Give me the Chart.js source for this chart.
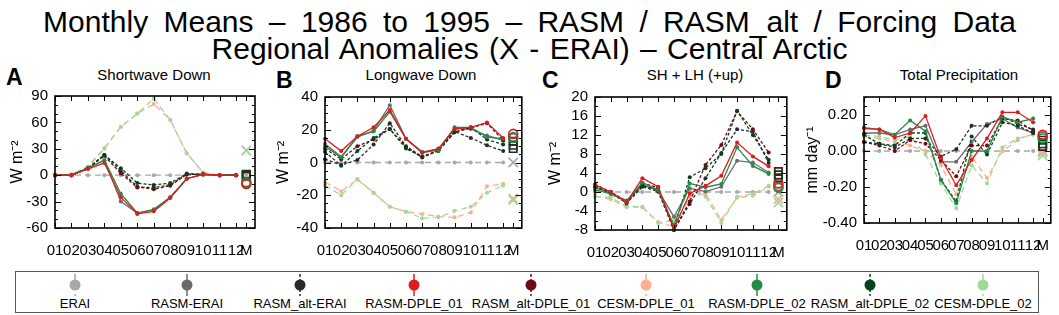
<!DOCTYPE html>
<html>
<head>
<meta charset="utf-8">
<script src="https://cdn.jsdelivr.net/npm/chart.js@4.4.0/dist/chart.umd.min.js"></script>
<style>
  body { margin: 0; width: 1059px; height: 315px; background: #fff; position: relative; overflow: hidden;
         font-family: "Liberation Sans", Arial, sans-serif; color: #000; }
  .abs { position: absolute; white-space: nowrap; }
  .title { left: 0; width: 1059px; text-align: center; font-size: 30px; line-height: 30px; }
  .letter { font-weight: bold; font-size: 23px; line-height: 23px; }
  .ptitle { font-size: 15px; line-height: 16px; transform: translateX(-50%); }
  canvas { position: absolute; }
  #legend { left: 15px; top: 271px; width: 1024px; height: 42px; border: 1px solid #555; box-sizing: border-box; }
  .item { position: absolute; top: 0; width: 130px; margin-left: -65px; text-align: center; }
  .item svg { display: block; margin: 2px auto 0; }
  .item span { display: block; font-size: 13px; line-height: 15px; white-space: nowrap; }
</style>
</head>
<body>
<div class="abs title" style="top:7px; word-spacing:7px">Monthly Means – 1986 to 1995 – RASM / RASM_alt / Forcing Data</div>
<div class="abs title" style="top:34px; word-spacing:2px">Regional Anomalies (X - ERAI) – Central Arctic</div>
<div id="legend" class="abs"></div>

<script>
// months + annual mean
const categories = ['01', '02', '03', '04', '05', '06', '07', '08', '09', '10', '11', '12', 'M'];
const seriesNames = ['ERAI', 'RASM-ERAI', 'RASM_alt-ERAI', 'RASM-DPLE_01', 'RASM_alt-DPLE_01',
                     'CESM-DPLE_01', 'RASM-DPLE_02', 'RASM_alt-DPLE_02', 'CESM-DPLE_02'];

// A - Shortwave Down (W m-2)
const swERAI        = [0, 0, 0, 0, 0, 0, 0, 0, 0, 0, 0, 0, 0];
const swRasmErai    = [0, 0, 8, 17, -30, -43, -39, -25, -4, 1, 0, 0, -9];
const swAltErai     = [0, 0, 8, 23, 5, -13, -16, -12, 1, 1, 0, 0, 0];
const swRasmDple1   = [0, 0, 7, 14, -25, -44, -41, -26, -4, 1, 0, 0, -10];
const swAltDple1    = [0, 0, 8, 22, 2, -14, -14, -11, 1, 1, 0, 0, -1];
const swCesmDple1   = [0, 1, 9, 30, 55, 70, 81, 63, 25, 3, 0, 0, 28];
const swRasmDple2   = [0, 0, 8, 17, -21, -43, -39, -25, -4, 1, 0, 0, -8];
const swAltDple2    = [0, 0, 8, 23, 8, -9, -11, -9, 2, 1, 0, 0, 1];
const swCesmDple2   = [0, 1, 10, 31, 55, 70, 87, 63, 25, 3, 0, 0, 28];

// B - Longwave Down (W m-2)
const lwERAI        = [0, 0, 0, 0, 0, 0, 0, 0, 0, 0, 0, 0, 0];
const lwRasmErai    = [11.5, 3.5, 15.5, 19.5, 35, 14.5, 6.5, 8, 20.5, 20.5, 16.5, 13.5, 15.5];
const lwAltErai     = [2, -1.5, 1.5, 11, 24, 10, 3.5, 7.5, 19, 15, 10.5, 7, 8.5];
const lwRasmDple1   = [14.5, 7, 16, 21.5, 32, 14.5, 6, 8.5, 20.5, 21.5, 24.5, 15, 17.5];
const lwAltDple1    = [8.5, 2, 10, 14, 20.5, 9.5, 3, 7.5, 18.5, 21, 24, 13.5, 13];
const lwCesmDple1   = [-12, -17.5, -10.5, -18.5, -27, -30, -31.5, -33, -33.5, -30.5, -14.5, -13, -22];
const lwRasmDple2   = [10, 3, 16, 19, 31, 14.5, 6, 7.5, 21.5, 21.5, 15.5, 14.5, 15];
const lwAltDple2    = [6.5, -2, 7, 15, 20.5, 8.5, 3.5, 7, 18.5, 21.5, 14, 11, 10.5];
const lwCesmDple2   = [-14, -20, -10, -18.5, -27, -30, -34, -33.5, -29.5, -27, -18.5, -14, -23];

// C - SH + LH (W m-2)
const hfERAI        = [0, 0, 0, 0, 0, 0, 0, 0, 0, 0, 0, 0, 0];
const hfRasmErai    = [0.9, -0.3, -1.8, 1.5, 0.3, -5.2, 0.8, 0.1, 1.1, 6.6, 6.2, 4.1, 1.2];
const hfAltErai     = [1.1, 0, -2.4, 1.1, 0.1, -8, -2.5, 2.9, 8.2, 13.2, 12.7, 6.1, 3.0];
const hfRasmDple1   = [1.5, 0, -2.2, 2.9, 1.1, -7.7, -0.3, 1.3, 3.4, 10.4, 7.5, 5.4, 1.8];
const hfAltDple1    = [1.6, 0, -2, 1.8, 1, -8, -2, 5.7, 9.9, 17, 13.2, 8.3, 4.3];
const hfCesmDple1   = [-0.8, -1.5, -3.2, -3.2, -6.3, -7.3, -1, -0.3, -5.9, -1.2, -0.8, 1.1, -1.5];
const hfRasmDple2   = [0.5, -0.4, -2, 2, 0.4, -7, 1.8, 1, 1.7, 9.4, 5.5, 3.8, 0.9];
const hfAltDple2    = [1.3, -0.3, -2.2, 1.3, 0.6, -7.7, 3.1, 5, 8, 17.1, 12, 6.8, 3.6];
const hfCesmDple2   = [-1, -1.1, -3, -3.1, -6.5, -5.9, 0.6, -1, -6.5, -1, -0.4, 1.3, -2.2];

// D - Total Precipitation (mm day-1)
const prERAI        = [0, 0, 0, 0, 0, 0, 0, 0, 0, 0, 0, 0, 0];
const prRasmErai    = [0.10, 0.10, 0.09, 0.12, 0.14, -0.06, -0.06, 0.05, 0.15, 0.18, 0.13, 0.10, 0.08];
const prAltErai     = [0.05, 0.04, 0.02, 0.07, 0.07, -0.03, 0.01, 0.14, 0.14, 0.19, 0.15, 0.12, 0.06];
const prRasmDple1   = [0.125, 0.12, 0.075, 0.10, 0.195, -0.04, -0.19, -0.05, 0.07, 0.215, 0.215, 0.16, 0.09];
const prAltDple1    = [0.05, 0.03, 0.0, 0.06, 0.04, -0.05, -0.14, 0.03, 0.03, 0.18, 0.17, 0.11, 0.025];
const prCesmDple1   = [0.08, 0.07, 0.05, 0.03, 0.0, -0.08, -0.24, -0.03, -0.15, 0.0, 0.06, 0.10, -0.01];
const prRasmDple2   = [0.13, 0.12, 0.09, 0.17, 0.11, -0.16, -0.29, 0.0, 0.0, 0.19, 0.16, 0.18, 0.07];
const prAltDple2    = [0.09, 0.04, 0.03, 0.10, 0.10, -0.16, -0.28, 0.08, -0.02, 0.16, 0.14, 0.10, 0.04];
const prCesmDple2   = [0.09, 0.08, 0.06, 0.08, -0.02, -0.18, -0.32, -0.08, -0.18, 0.02, 0.07, 0.09, -0.025];

// y axis ranges and tick labels
const swRange = [-60, 90], swTicks = [-60, -30, 0, 30, 60, 90];
const lwRange = [-40, 40], lwTicks = [-40, -20, 0, 20, 40];
const hfRange = [-8, 20],  hfTicks = [-8, -4, 0, 4, 8, 12, 16, 20];
const prRange = [-0.4, 0.3], prTicks = [-0.4, -0.2, 0, 0.2];

// ---- styles ----
const colors = ['#a8a8a8', '#6b6b6b', '#2a2a2a', '#e31a1c', '#6d0a14', '#fcae91', '#238b45', '#00441b', '#a1d99b'];
const dashes = [[6, 4], [], [3, 2], [], [3, 2], [6, 4], [], [3, 2], [6, 4]];
const meanStyle = ['crossRot', 'circle', 'rect', 'circle', 'rect', 'crossRot', 'circle', 'rect', 'crossRot'];
const meanRadius = { crossRot: 6.5, circle: 4.4, rect: 5.2 };
const layer = [9, 6, 5, 1, 4, 8, 2, 3, 7];   // lower = drawn on top
const legendX = [75, 187, 300, 414, 531, 646, 757, 870, 983];
const meanPos = 12.62;
const xMax = 13.15;
const font = { family: "'Liberation Sans', Arial, sans-serif", size: 15 };

const panels = [
  { letter: 'A', name: 'Shortwave Down', unit: 'W m⁻²', values: [swERAI, swRasmErai, swAltErai, swRasmDple1, swAltDple1, swCesmDple1, swRasmDple2, swAltDple2, swCesmDple2],
    range: swRange, ticks: swTicks, minorDiv: 3, fmt: v => String(v),
    box: { l: 0, t: 80, w: 265, h: 180 }, plot: { l: 55, t: 95, r: 255, b: 228 }, titleX: 17, letterPos: [6, 66], nameX: 154 },
  { letter: 'B', name: 'Longwave Down', unit: 'W m⁻²', values: [lwERAI, lwRasmErai, lwAltErai, lwRasmDple1, lwAltDple1, lwCesmDple1, lwRasmDple2, lwAltDple2, lwCesmDple2],
    range: lwRange, ticks: lwTicks, minorDiv: 4, fmt: v => String(v),
    box: { l: 265, t: 80, w: 265, h: 180 }, plot: { l: 325, t: 97, r: 523, b: 228 }, titleX: 283, letterPos: [276, 69], nameX: 421 },
  { letter: 'C', name: 'SH + LH (+up)', unit: 'W m⁻²', values: [hfERAI, hfRasmErai, hfAltErai, hfRasmDple1, hfAltDple1, hfCesmDple1, hfRasmDple2, hfAltDple2, hfCesmDple2],
    range: hfRange, ticks: hfTicks, minorDiv: 2, fmt: v => String(v),
    box: { l: 530, t: 80, w: 265, h: 180 }, plot: { l: 595, t: 97, r: 793, b: 230 }, titleX: 555, letterPos: [542, 69], nameX: 695 },
  { letter: 'D', name: 'Total Precipitation', unit: 'mm day⁻¹', values: [prERAI, prRasmErai, prAltErai, prRasmDple1, prAltDple1, prCesmDple1, prRasmDple2, prAltDple2, prCesmDple2],
    range: prRange, ticks: prTicks, minorDiv: 4, fmt: v => v.toFixed(2),
    box: { l: 795, t: 80, w: 264, h: 180 }, plot: { l: 864, t: 97, r: 1055, b: 223 }, titleX: 812, letterPos: [825, 69], nameX: 959 }
];

// frame with inward major/minor tick marks, like the original plots
const frameTicks = {
  id: 'frameTicks',
  afterDatasetsDraw(chart, args, opts) {
    const { ctx, chartArea: a, scales: { x, y } } = chart;
    ctx.save();
    ctx.strokeStyle = '#000';
    ctx.lineWidth = 1;
    ctx.beginPath();
    const step = (opts.ticks[1] - opts.ticks[0]) / opts.minorDiv;
    const n = Math.round((y.max - y.min) / step);
    for (let k = 0; k <= n; k++) {
      const v = y.min + k * step;
      const major = opts.ticks.some(m => Math.abs(m - v) < step / 10);
      const len = major ? 6 : 3;
      const py = Math.round(y.getPixelForValue(v)) + 0.5;
      ctx.moveTo(a.left, py); ctx.lineTo(a.left + len, py);
      ctx.moveTo(a.right, py); ctx.lineTo(a.right - len, py);
    }
    x.ticks.forEach(t => {
      const px = Math.round(x.getPixelForValue(t.value)) + 0.5;
      ctx.moveTo(px, a.bottom); ctx.lineTo(px, a.bottom - 5);
      ctx.moveTo(px, a.top); ctx.lineTo(px, a.top + 5);
    });
    ctx.stroke();
    ctx.lineWidth = 1.6;
    ctx.strokeRect(a.left, a.top, a.right - a.left, a.bottom - a.top);
    ctx.restore();
  }
};

function makeDatasets(values) {
  const ds = [];
  seriesNames.forEach((name, i) => {
    const v = values[i];
    ds.push({
      label: name,
      data: categories.slice(0, 12).map((c, k) => ({ x: k + 1, y: v[k] })),
      borderColor: colors[i], backgroundColor: colors[i],
      borderWidth: 1.3, borderDash: dashes[i],
      pointRadius: 2, pointBorderWidth: 0, pointBackgroundColor: colors[i],
      clip: false, order: layer[i]
    });
    ds.push({
      label: name + ' (M)',
      data: [{ x: meanPos, y: v[12] }],
      showLine: false,
      pointStyle: meanStyle[i], pointRadius: meanRadius[meanStyle[i]],
      pointBorderColor: colors[i], pointBackgroundColor: 'rgba(0,0,0,0)', pointBorderWidth: 1.7,
      clip: false, order: layer[i]
    });
  });
  return ds;
}

const xTickPos = categories.map((c, k) => (c === 'M' ? meanPos : k + 1));
const xH = 30;

panels.forEach(p => {
  const letter = document.createElement('div');
  letter.className = 'abs letter';
  letter.style.left = p.letterPos[0] + 'px';
  letter.style.top = p.letterPos[1] + 'px';
  letter.textContent = p.letter;
  document.body.appendChild(letter);

  const nm = document.createElement('div');
  nm.className = 'abs ptitle';
  nm.style.left = p.nameX + 'px';
  nm.style.top = '67px';
  nm.textContent = p.name;
  document.body.appendChild(nm);

  const cv = document.createElement('canvas');
  cv.width = p.box.w; cv.height = p.box.h;
  cv.style.left = p.box.l + 'px'; cv.style.top = p.box.t + 'px';
  document.body.appendChild(cv);

  const padLeft = p.titleX - 9 - p.box.l;
  const yW = p.plot.l - p.box.l - padLeft;

  new Chart(cv, {
    type: 'line',
    data: { datasets: makeDatasets(p.values) },
    options: {
      responsive: false,
      animation: false,
      events: [],
      layout: {
        padding: {
          left: padLeft,
          top: p.plot.t - p.box.t,
          right: p.box.l + p.box.w - p.plot.r,
          bottom: p.box.t + p.box.h - p.plot.b - xH
        }
      },
      plugins: {
        legend: { display: false },
        tooltip: { enabled: false },
        frameTicks: { ticks: p.ticks, minorDiv: p.minorDiv }
      },
      scales: {
        x: {
          type: 'linear', min: 1, max: xMax,
          border: { display: false },
          grid: { display: true, drawOnChartArea: false, drawTicks: true, tickLength: 12, color: 'rgba(0,0,0,0)' },
          afterBuildTicks: s => { s.ticks = xTickPos.map(v => ({ value: v })); },
          afterFit: s => { s.height = xH; },
          ticks: { autoSkip: false, maxRotation: 0, minRotation: 0, padding: 2, color: '#000', font,
                   callback: (v, i) => categories[i] }
        },
        y: {
          min: p.range[0], max: p.range[1],
          border: { display: false },
          grid: { display: false, drawTicks: false },
          afterBuildTicks: s => { s.ticks = p.ticks.map(v => ({ value: v })); },
          afterFit: s => { s.width = yW; },
          ticks: { autoSkip: false, padding: 7, color: '#000', font, callback: v => p.fmt(v) },
          title: { display: true, text: p.unit, color: '#000', padding: 0,
                   font: { family: font.family, size: 16 } }
        }
      }
    },
    plugins: [frameTicks]
  });
});

// legend: marker with vertical line through it, name below
const legend = document.getElementById('legend');
seriesNames.forEach((name, i) => {
  const it = document.createElement('div');
  it.className = 'item';
  it.style.left = (legendX[i] - 16) + 'px';
  const dash = dashes[i].length ? `stroke-dasharray="${dashes[i].join(' ')}"` : '';
  it.innerHTML =
    `<svg width="14" height="22" viewBox="0 0 14 22">
       <line x1="7" y1="0" x2="7" y2="22" stroke="${colors[i]}" stroke-width="1.5" ${dash}/>
       <circle cx="7" cy="11" r="5.5" fill="${colors[i]}"/>
     </svg><span>${name}</span>`;
  legend.appendChild(it);
});
</script>
</body>
</html>
